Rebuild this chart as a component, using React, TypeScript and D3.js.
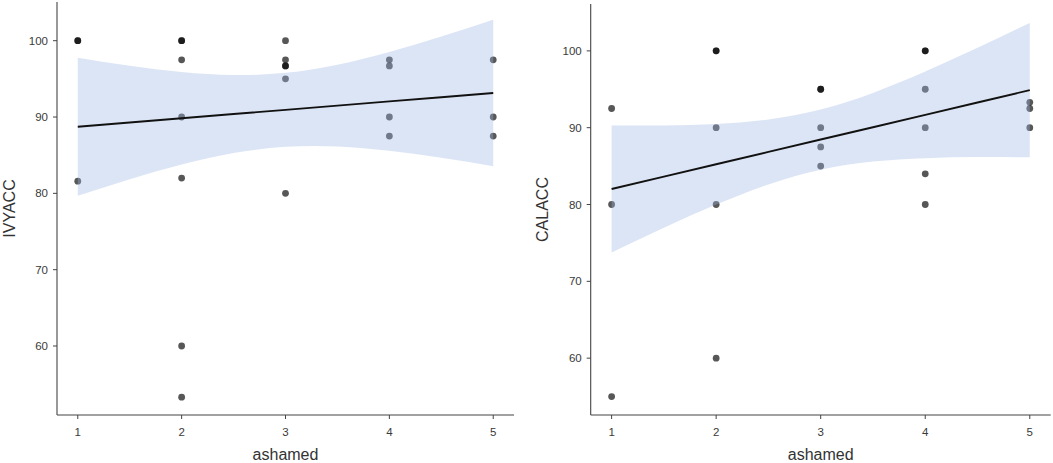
import * as d3 from 'd3';

// ---- data ----
const xTicks = [1, 2, 3, 4, 5];
const yTicks = [60, 70, 80, 90, 100];

// left panel: IVYACC vs ashamed (duplicates drawn twice -> darker dots)
const ivyX = [1, 1, 1, 2, 2, 2, 2, 2, 2, 2, 3, 3, 3, 3, 3, 3, 4, 4, 4, 4, 5, 5, 5];
const ivyY = [100, 100, 81.6, 100, 100, 97.5, 90, 82, 60, 53.3, 100, 97.5, 96.7, 96.7, 95, 80, 97.5, 96.7, 90, 87.5, 97.5, 90, 87.5];

// right panel: CALACC vs ashamed
const calX = [1, 1, 1, 2, 2, 2, 2, 2, 3, 3, 3, 3, 3, 4, 4, 4, 4, 4, 4, 5, 5, 5];
const calY = [92.5, 80, 55, 100, 100, 90, 80, 60, 95, 95, 90, 87.5, 85, 100, 100, 95, 90, 84, 80, 93.3, 92.5, 90];

// smoothing line and confidence band, read at half steps
const bandX = [1, 1.5, 2, 2.5, 3, 3.5, 4, 4.5, 5];
const ivyFit = [88.73, 89.28, 89.84, 90.39, 90.94, 91.5, 92.05, 92.6, 93.15];
const ivyUpper = [97.77, 96.71, 95.9, 95.5, 95.79, 96.86, 98.53, 100.55, 102.75];
const ivyLower = [79.69, 81.85, 83.78, 85.28, 86.09, 86.14, 85.57, 84.65, 83.55];

const calFit = [82.02, 83.63, 85.24, 86.85, 88.46, 90.06, 91.67, 93.28, 94.89];
const calUpper = [90.28, 90.29, 90.49, 91.08, 92.38, 94.53, 97.31, 100.39, 103.64];
const calLower = [73.76, 76.97, 79.99, 82.62, 84.54, 85.59, 86.03, 86.17, 86.14];

const FONT = '"Liberation Sans", Arial, Helvetica, sans-serif';

interface PanelProps {
  xs: number[];
  ys: number[];
  fit: number[];
  upper: number[];
  lower: number[];
  yLabel: string;
  left: number;
  right: number;
  top: number;
  bottom: number;
  yDomain: [number, number];
  labelX: number;
}

const Panel = ({ xs, ys, fit, upper, lower, yLabel, left, right, top, bottom, yDomain, labelX }: PanelProps) => {
  const x = d3.scaleLinear().domain([0.8, 5.2]).range([left, right]);
  const y = d3.scaleLinear().domain(yDomain).range([bottom, top]);

  const band = d3.area<number>()
    .x((d) => x(d))
    .y0((_, i) => y(lower[i]))
    .y1((_, i) => y(upper[i]))
    .curve(d3.curveNatural);

  const line = d3.line<number>()
    .x((d) => x(d))
    .y((_, i) => y(fit[i]));

  return (
    <g>
      {/* points first, ribbon on top like ggplot's layer order */}
      {xs.map((d, i) => (
        <circle key={i} cx={x(d)} cy={y(ys[i])} r={3.4} fill="#000" fillOpacity={0.66} />
      ))}
      <path d={band(bandX) || ''} fill="#9db6e3" fillOpacity={0.36} />
      <path d={line(bandX) || ''} fill="none" stroke="#111" strokeWidth={1.9} />

      {/* axes */}
      <line x1={left} x2={left} y1={top} y2={bottom} stroke="#444" strokeWidth={1.1} />
      <line x1={left} x2={right} y1={bottom} y2={bottom} stroke="#444" strokeWidth={1.1} />
      {yTicks.map((t) => (
        <g key={t}>
          <line x1={left - 4} x2={left} y1={y(t)} y2={y(t)} stroke="#444" strokeWidth={1} />
          <text x={left - 9} y={y(t)} dy="0.35em" textAnchor="end" fontSize={11.5} fill="#3a3a3a" fontFamily={FONT}>
            {t}
          </text>
        </g>
      ))}
      {xTicks.map((t) => (
        <g key={t}>
          <line x1={x(t)} x2={x(t)} y1={bottom} y2={bottom + 4} stroke="#444" strokeWidth={1} />
          <text x={x(t)} y={bottom + 17} dy="0.35em" textAnchor="middle" fontSize={11.5} fill="#3a3a3a" fontFamily={FONT}>
            {t}
          </text>
        </g>
      ))}
      <text x={(left + right) / 2} y={bottom + 39} dy="0.35em" textAnchor="middle" fontSize={16} fill="#333" fontFamily={FONT}>
        ashamed
      </text>
      <text
        transform={`translate(${labelX},${(top + bottom) / 2}) rotate(-90)`}
        textAnchor="middle"
        dy="0.35em"
        fontSize={16}
        fill="#333"
        fontFamily={FONT}
      >
        {yLabel}
      </text>
    </g>
  );
};

export default function App() {
  return (
    <svg width={1053} height={463} style={{ position: 'absolute', left: 0, top: 0, background: '#fff' }}>
      <Panel
        xs={ivyX}
        ys={ivyY}
        fit={ivyFit}
        upper={ivyUpper}
        lower={ivyLower}
        yLabel="IVYACC"
        left={57}
        right={514}
        top={2}
        bottom={415}
        yDomain={[50.96, 105.07]}
        labelX={9}
      />
      <Panel
        xs={calX}
        ys={calY}
        fit={calFit}
        upper={calUpper}
        lower={calLower}
        yLabel="CALACC"
        left={590.7}
        right={1050.7}
        top={4}
        bottom={415}
        yDomain={[52.6, 106.1]}
        labelX={542}
      />
    </svg>
  );
}
